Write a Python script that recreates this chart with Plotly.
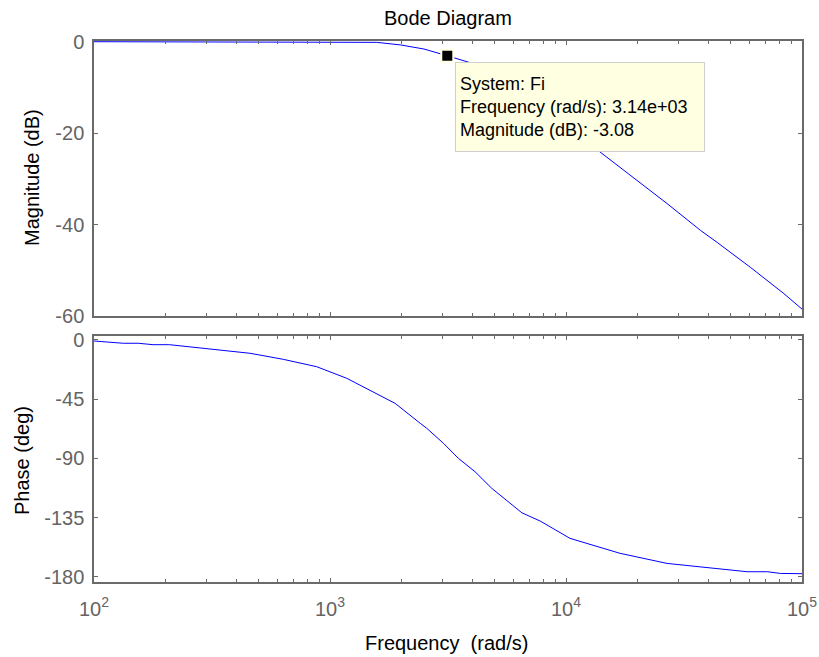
import plotly.graph_objects as go

# Magnitude response (dB) read at these frequencies (rad/s)
mag_freq = [100, 200, 500, 1000, 1130, 1578, 1983, 2500, 3140, 3930, 5000, 7000,
            10000, 14000, 19400, 26800, 37200, 43700, 60600, 83800, 100000]
mag_db = [0, 0, 0, 0, -0.05, -0.15, -0.7, -1.6, -3.08, -4.6, -8.0, -12.8,
          -18.4, -24.2, -29.9, -35.4, -41.3, -43.9, -49.4, -55.1, -58.5]

# Phase response (deg)
ph_freq = [100, 133, 154, 178, 209, 300, 458, 634, 879, 1178, 1888, 2410, 2570,
           3025, 3500, 4120, 4850, 6500, 7780, 10400, 16900, 26800, 58500, 71200,
           81100, 100000]
ph_deg = [-1.0, -2.7, -2.7, -3.8, -3.8, -6.8, -10.3, -14.9, -20.5, -29.3, -48.3,
          -63.4, -67.2, -78.6, -90.0, -100.2, -112.8, -131.3, -137.6, -150.7,
          -162.0, -169.7, -176.0, -176.0, -177.3, -177.5]

# Data tip
tip_freq = 3.14e3
tip_mag = -3.08

mag_ticks = [0, -20, -40, -60]
ph_ticks = [0, -45, -90, -135, -180]
dec_ticks = [1e2, 1e3, 1e4, 1e5]
dec_text = ["10<sup>2</sup>", "10<sup>3</sup>", "10<sup>4</sup>", "10<sup>5</sup>"]
minor_ticks = [m * d for d in (100, 1000, 10000) for m in range(2, 10)]

W, H = 819, 657
FONT = "Liberation Sans, Arial, sans-serif"
AX = "#6a6a6a"
TICKFONT = dict(family=FONT, size=20, color="#646464")

fig = go.Figure()
fig.add_trace(go.Scatter(x=mag_freq, y=mag_db, mode="lines",
                         line=dict(color="#0000ff", width=1),
                         xaxis="x", yaxis="y", showlegend=False, hoverinfo="skip"))
fig.add_trace(go.Scatter(x=[tip_freq], y=[tip_mag], mode="markers",
                         marker=dict(symbol="square", size=12, color="black",
                                     line=dict(color="#ffffe1", width=2)),
                         xaxis="x", yaxis="y", showlegend=False, hoverinfo="skip",
                         cliponaxis=False))
fig.add_trace(go.Scatter(x=ph_freq, y=ph_deg, mode="lines",
                         line=dict(color="#0000ff", width=1),
                         xaxis="x2", yaxis="y2", showlegend=False, hoverinfo="skip"))

xdom = [94 / W, 802 / W]
common_x = dict(type="log", range=[2, 5], domain=xdom, showgrid=False, zeroline=False,
                showline=True, linecolor=AX, linewidth=1.5, mirror="allticks",
                ticks="inside", ticklen=4, tickcolor=AX, tickwidth=1,
                tickmode="array", tickvals=dec_ticks, ticktext=dec_text,
                automargin=False,
                minor=dict(tickmode="array", tickvals=minor_ticks, ticks="inside",
                           ticklen=3, tickcolor=AX, tickwidth=1))
common_y = dict(showgrid=False, zeroline=False, showline=True, linecolor=AX,
                linewidth=1.5, mirror="allticks", ticks="inside", ticklen=4,
                tickcolor=AX, tickwidth=1, tickmode="array", tickfont=TICKFONT,
                ticklabelstandoff=4, automargin=False)

fig.update_layout(
    width=W, height=H,
    margin=dict(l=0, r=0, t=0, b=0, autoexpand=False),
    paper_bgcolor="white", plot_bgcolor="white",
    xaxis=dict(**common_x, anchor="y", showticklabels=False),
    yaxis=dict(**common_y, domain=[1 - 316 / H, 1 - 41 / H], range=[-60, 0.15],
               tickvals=mag_ticks, ticktext=[str(v) for v in mag_ticks], anchor="x"),
    xaxis2=dict(**common_x, anchor="y2", matches="x", tickfont=TICKFONT,
                ticklabelstandoff=8),
    yaxis2=dict(**common_y, domain=[1 - 582 / H, 1 - 336 / H], range=[-183.8, 2.8],
                tickvals=ph_ticks, ticktext=[str(v) for v in ph_ticks], anchor="x2"),
)

labfont = dict(family=FONT, size=20, color="black")
fig.add_annotation(text="Bode Diagram", x=448 / W, y=1 - 18 / H, xref="paper",
                   yref="paper", showarrow=False, font=labfont,
                   xanchor="center", yanchor="middle")
fig.add_annotation(text="Magnitude (dB)", x=32 / W, y=1 - 178 / H, xref="paper",
                   yref="paper", showarrow=False, font=labfont, textangle=-90,
                   xanchor="center", yanchor="middle")
fig.add_annotation(text="Phase (deg)", x=22 / W, y=1 - 461 / H, xref="paper",
                   yref="paper", showarrow=False, font=labfont, textangle=-90,
                   xanchor="center", yanchor="middle")
fig.add_annotation(text="Frequency\u00a0\u00a0(rad/s)", x=447 / W, y=1 - 643 / H,
                   xref="paper", yref="paper", showarrow=False, font=labfont,
                   xanchor="center", yanchor="middle")

tip_text = ("System: Fi<br>Frequency (rad/s): %.2fe+03<br>Magnitude (dB): %.2f"
            % (tip_freq / 1e3, tip_mag))
fig.add_annotation(text=tip_text, x=455 / W, y=1 - 62 / H, xref="paper", yref="paper",
                   showarrow=False, xanchor="left", yanchor="top", align="left",
                   valign="middle", width=240, height=80, borderpad=4, borderwidth=1,
                   bordercolor="#cfcfcf", bgcolor="#ffffe1",
                   font=dict(family=FONT, size=18, color="black"))

fig.write_html("out.html")
